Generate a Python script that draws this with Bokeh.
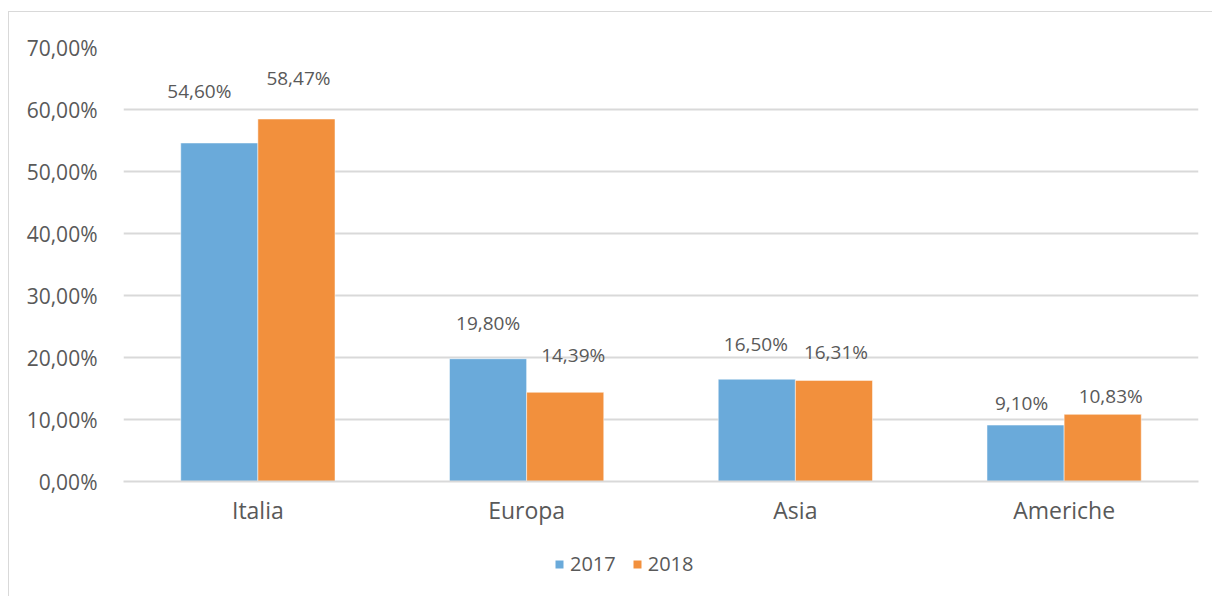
from bokeh.plotting import figure
from bokeh.layouts import column
from bokeh.models import ColumnDataSource, FactorRange, LabelSet, Legend, LegendItem, FixedTicker, Range1d
from bokeh.transform import dodge
from bokeh.core.properties import value
from bokeh.embed import file_html
from bokeh.resources import INLINE

categories = ["Italia", "Europa", "Asia", "Americhe"]
years = ["2017", "2018"]
v2017 = [54.60, 19.80, 16.50, 9.10]
v2018 = [58.47, 14.39, 16.31, 10.83]
y_ticks = [0, 10, 20, 30, 40, 50, 60, 70]
y_tick_labels = ["0,00%", "10,00%", "20,00%", "30,00%", "40,00%", "50,00%", "60,00%", "70,00%"]

# label placement tweaks (screen px), as hand-placed in the original
dx2017 = [-20, 0, -1, -4]
dy2017 = [52, 36, 35, 22]
dx2018 = [2, 8, 2, 8]
dy2018 = [41, 37, 28, 18]

def fmt(v):
    return f"{v:.2f}".replace(".", ",") + "%"

BLUE = "#6aaada"
ORANGE = "#f2903d"
TEXT = "#595959"
GRID = "#d9d9d9"
FONT = "Open Sans"

src17 = ColumnDataSource(dict(cat=categories, v=v2017, lab=[fmt(v) for v in v2017], dx=dx2017, dy=dy2017))
src18 = ColumnDataSource(dict(cat=categories, v=v2018, lab=[fmt(v) for v in v2018], dx=dx2018, dy=dy2018))

xr = FactorRange(*categories, range_padding=0)
p = figure(x_range=xr, y_range=(0, 70),
           width=1204, height=535, output_backend="svg", toolbar_location=None,
           min_border_left=114, min_border_right=15, min_border_top=35, min_border_bottom=66)
p.styles = {"border-left": "1px solid #d9d9d9", "border-top": "1px solid #d9d9d9"}
p.outline_line_color = None
p.background_fill_color = "white"

bw = 0.287
bar_specs = [(src17, -bw / 2, BLUE), (src18, bw / 2, ORANGE)]
for src, off, col in bar_specs:
    p.vbar(x=dodge("cat", off, range=xr), top="v", width=bw, source=src,
           fill_color=col, line_color="white", line_width=0.5)
    ls = LabelSet(x=dodge("cat", off, range=xr), y="v", text="lab", source=src,
                  x_offset="dx", y_offset="dy", text_align="center", text_baseline="middle",
                  text_font=value(FONT), text_font_size=value("19px"), text_color=TEXT)
    p.add_layout(ls)

p.yaxis.ticker = FixedTicker(ticks=y_ticks)
p.yaxis.major_label_overrides = {t: l for t, l in zip(y_ticks, y_tick_labels)}
p.yaxis.axis_line_color = None
p.yaxis.major_tick_line_color = None
p.yaxis.minor_tick_line_color = None
p.yaxis.major_label_text_font = FONT
p.yaxis.major_label_text_font_size = "21px"
p.yaxis.major_label_text_color = TEXT
p.yaxis.major_label_standoff = 20

p.xaxis.axis_line_color = GRID
p.xaxis.axis_line_width = 2
p.xaxis.major_tick_line_color = None
p.xaxis.minor_tick_line_color = None
p.xaxis.major_label_text_font = FONT
p.xaxis.major_label_text_font_size = "23px"
p.xaxis.major_label_text_color = TEXT
p.xaxis.major_label_standoff = 6

p.xgrid.grid_line_color = None
p.ygrid.grid_line_color = GRID
p.ygrid.grid_line_width = 2

# legend strip below the chart (its key renderers are hidden; only the legend shows)
pl = figure(x_range=xr, y_range=Range1d(-2, -1), width=1204, height=50,
            output_backend="svg", toolbar_location=None,
            min_border_left=114, min_border_right=15, min_border_top=0, min_border_bottom=0)
pl.styles = {"border-left": "1px solid #d9d9d9"}
pl.axis.visible = False
pl.grid.visible = False
pl.outline_line_color = None
keys = []
for src, off, col in bar_specs:
    k = pl.vbar(x=dodge("cat", off, range=xr), top="v", width=bw, source=src,
                fill_color=col, line_color=None)
    k.visible = False
    keys.append(k)

legend = Legend(items=[LegendItem(label=y, renderers=[k]) for y, k in zip(years, keys)],
                orientation="horizontal", location=(431, 19), glyph_width=10, glyph_height=10,
                label_standoff=6, spacing=16, padding=0, margin=0, border_line_color=None,
                background_fill_alpha=0, label_text_font=FONT, label_text_font_size="20px",
                label_text_color=TEXT, inactive_fill_alpha=0)
pl.add_layout(legend, "center")

layout = column(p, pl, spacing=0)
layout.styles = {"margin-left": "8px", "margin-top": "11px"}

open("out.html", "w").write(file_html(layout, INLINE))
